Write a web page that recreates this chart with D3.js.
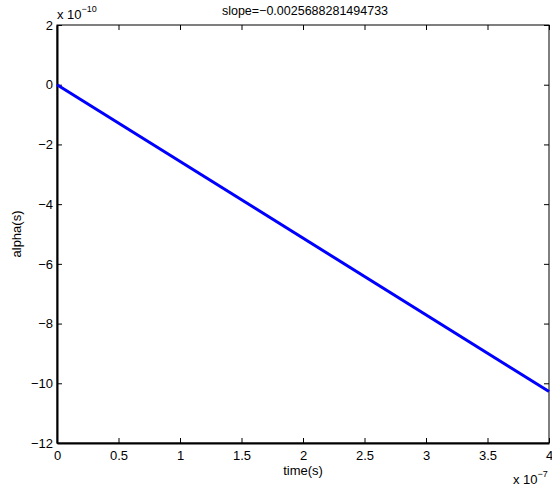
<!DOCTYPE html>
<meta charset="utf-8">
<script src="https://d3js.org/d3.v7.min.js"></script>
<style>
  body { margin: 0; background: #fff; }
  text { font-family: "Liberation Sans", Arial, Helvetica, sans-serif; }
</style>
<div id="chart"></div>
<script>
  // data (time in units of 1e-7 s, alpha in units of 1e-10)
  var times = [0, 4];
  var alphas = [0, -10.2753];
  var xTicks = [0, 0.5, 1, 1.5, 2, 2.5, 3, 3.5, 4];
  var yTicks = [2, 0, -2, -4, -6, -8, -10, -12];
  var title = "slope=\u22120.0025688281494733";

  var width = 552, height = 491;
  var axLeft = 57, axRight = 549, axTop = 25, axBottom = 443;

  var svg = d3.select("#chart").append("svg")
    .attr("width", width)
    .attr("height", height);

  var x = d3.scaleLinear().domain([0, 4]).range([axLeft, axRight]);
  var y = d3.scaleLinear().domain([-12, 2]).range([axBottom, axTop]);

  function fmt(v) { return String(v).replace("-", "\u2212"); }

  // box
  svg.append("rect")
    .attr("x", axLeft).attr("y", axTop)
    .attr("width", axRight - axLeft).attr("height", axBottom - axTop)
    .attr("fill", "none").attr("stroke", "#000").attr("stroke-width", 1);

  // bottom axis
  var gx = svg.append("g").attr("transform", "translate(0," + axBottom + ")")
    .call(d3.axisBottom(x).tickValues(xTicks).tickSizeInner(-5).tickSizeOuter(0).tickPadding(8).tickFormat(fmt));
  gx.select(".domain").attr("stroke-width", 2);
  gx.selectAll("text").attr("font-size", 13).attr("fill", "#000");

  // top ticks
  svg.append("g").attr("transform", "translate(0," + axTop + ")")
    .call(d3.axisTop(x).tickValues(xTicks).tickSizeInner(-5).tickSizeOuter(0).tickFormat(""))
    .select(".domain").remove();

  // left axis
  var gy = svg.append("g").attr("transform", "translate(" + axLeft + ",0)")
    .call(d3.axisLeft(y).tickValues(yTicks).tickSizeInner(-5).tickSizeOuter(0).tickPadding(4).tickFormat(fmt));
  gy.select(".domain").attr("stroke-width", 2);
  gy.selectAll("text").attr("font-size", 13).attr("fill", "#000");

  // right ticks
  svg.append("g").attr("transform", "translate(" + axRight + ",0)")
    .call(d3.axisRight(y).tickValues(yTicks).tickSizeInner(-5).tickSizeOuter(0).tickFormat(""))
    .select(".domain").remove();

  // line
  var pts = times.map(function (t, i) { return [t, alphas[i]]; });
  svg.append("path")
    .datum(pts)
    .attr("fill", "none")
    .attr("stroke", "#0000ff")
    .attr("stroke-width", 3)
    .attr("d", d3.line().x(function (d) { return x(d[0]); }).y(function (d) { return y(d[1]); }));

  // title and labels
  svg.append("text").attr("x", 305).attr("y", 15)
    .attr("text-anchor", "middle").attr("font-size", 12.5).text(title);

  svg.append("text").attr("x", (axLeft + axRight) / 2).attr("y", 475)
    .attr("text-anchor", "middle").attr("font-size", 13).text("time(s)");

  svg.append("text").attr("transform", "translate(21," + (axTop + axBottom) / 2 + ") rotate(-90)")
    .attr("text-anchor", "middle").attr("font-size", 13).text("alpha(s)");

  // exponent labels
  var ex1 = svg.append("text").attr("x", 57).attr("y", 19).attr("font-size", 13);
  ex1.append("tspan").text("x 10");
  ex1.append("tspan").attr("dy", -7).attr("font-size", 9).text("\u221210");

  var ex2 = svg.append("text").attr("x", 513).attr("y", 484).attr("font-size", 13);
  ex2.append("tspan").text("x 10");
  ex2.append("tspan").attr("dy", -7).attr("font-size", 9).text("\u22127");
</script>
